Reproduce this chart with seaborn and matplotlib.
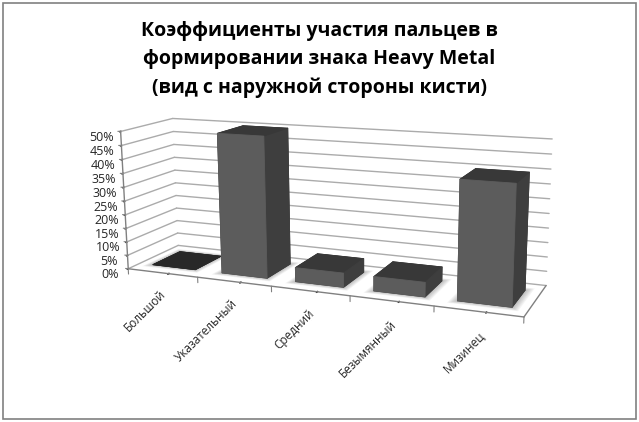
import numpy as np
import matplotlib
matplotlib.use('Agg')
import matplotlib.pyplot as plt
import seaborn as sns

fingers = ['Большой', 'Указательный', 'Средний', 'Безымянный', 'Мизинец']
percent = [0, 50, 5, 5, 40]
z_ticks = [0, 5, 10, 15, 20, 25, 30, 35, 40, 45, 50]
title = 'Коэффициенты участия пальцев в\nформировании знака Heavy Metal\n(вид с наружной стороны кисти)'

sns.set_theme(style='white')
plt.rcParams['font.family'] = ['Open Sans', 'DejaVu Sans']

grey = sns.color_palette('gray', 256)
front_c, side_c, top_c = grey[92], grey[62], grey[56]
line_c = '#ababab'

fig = plt.figure(figsize=(6.39, 4.22), dpi=100, facecolor='white')
ax = fig.add_axes([-0.025, -0.107, 1.06, 1.2], projection='3d', computed_zorder=False)
ax.set_proj_type('persp', focal_length=0.37)
ax.view_init(elev=13, azim=-67, roll=0.5)
ax.set_box_aspect((5, 1.2, 1.74), zoom=0.87)
ax.set_xlim(0, 5)
ax.set_ylim(0, 1)
ax.set_zlim(0, 50)
ax.patch.set_alpha(0)

ax.xaxis.set_pane_color((1, 1, 1, 0))
ax.yaxis.set_pane_color((1, 1, 1, 0))
ax.zaxis.set_pane_color((1, 1, 1, 0))
ax.grid(False)
for a in (ax.xaxis, ax.yaxis, ax.zaxis):
    a.line.set_color((1, 1, 1, 0))

# стены и пол
for v in z_ticks:
    ax.plot([-0.04, 0], [0, 0], [v, v], color='#808080', lw=0.8, zorder=1)
    ax.plot([0, 0], [0, 1], [v, v], color=line_c, lw=1, zorder=1)
    ax.plot([0, 5], [1, 1], [v, v], color=line_c, lw=1, zorder=1)
ax.plot([0, 0], [0, 0], [0, 50], color='#808080', lw=1, zorder=1)
ax.plot([5, 5], [0, 1], [0, 0], color='#808080', lw=1, zorder=1)
ax.plot([0, 5], [0, 0], [0, 0], color='#808080', lw=1, zorder=1)
for i in range(len(fingers) + 1):
    ax.plot([i, i], [0, 0], [0, -2], color='#808080', lw=0.8, zorder=1)

# подписи чуть правее середины категории, как в оригинале
ax.set_xticks(np.arange(len(fingers)) + 0.59)
ax.set_xticklabels(fingers, rotation=45, ha='right', va='center', rotation_mode='anchor', fontsize=8.5)
ax.set_yticks([])
ax.set_zticks(z_ticks)
ax.set_zticklabels([f'{v}%' for v in z_ticks], fontsize=9)
ax.tick_params(axis='x', pad=14, length=0)
ax.tick_params(axis='z', pad=1)
ax.zaxis.set_ticks_position('lower')

bar_w = 0.62
bar_d = 0.55
for i, val in enumerate(percent):
    x0 = i + (1 - bar_w) / 2
    y0 = (1 - bar_d) / 2
    # мягкая тень на полу
    for k in range(6):
        g = 0.09 - k * 0.014
        xs = [x0 - g, x0 + bar_w + g, x0 + bar_w + g, x0 - g]
        ys = [y0 - g, y0 - g, y0 + bar_d + g, y0 + bar_d + g]
        ax.plot_trisurf(xs, ys, [0, 0, 0, 0], color='#000000', alpha=0.045, shade=False, lw=0, zorder=2)
    colors = [side_c, top_c, front_c, side_c, side_c, side_c]
    if val == 0:
        colors = [grey[40]] * 6
    ax.bar3d(x0, y0, 0, bar_w, bar_d, val, color=colors, edgecolor=colors, linewidth=0.6,
             shade=False, zorder=3 + i)

fig.text(0.5, 0.95, title, ha='center', va='top', fontsize=14, fontweight='bold', linespacing=1.54, color='black')
fig.add_artist(plt.Rectangle((0.004, 0.007), 0.991, 0.987, transform=fig.transFigure, fill=False, ec='#808080', lw=1.2))

fig.savefig('out.png', dpi=100)
